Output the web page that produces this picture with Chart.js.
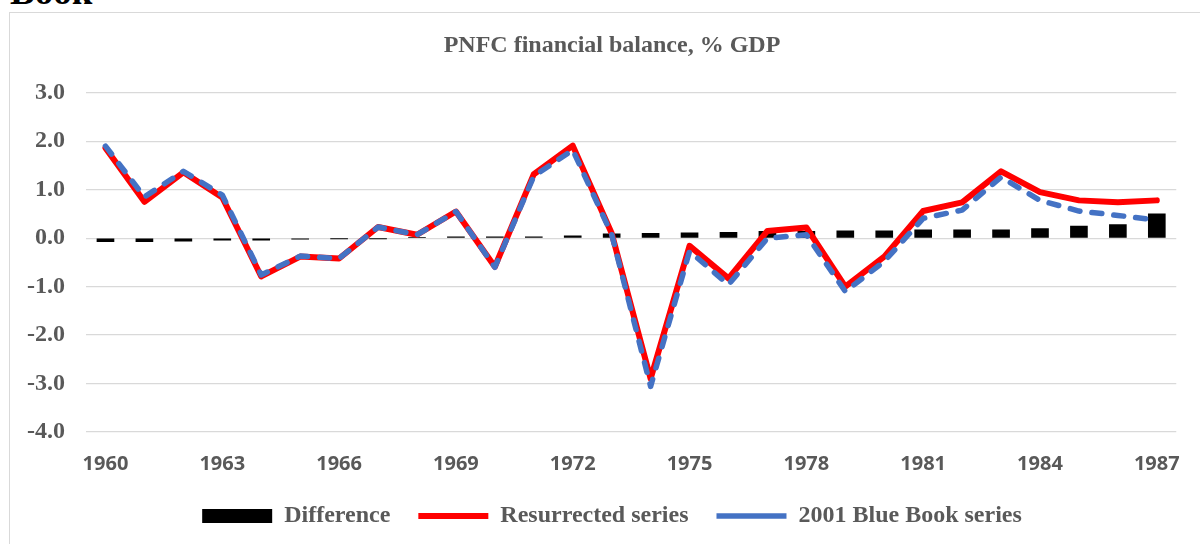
<!DOCTYPE html>
<html>
<head>
<meta charset="utf-8">
<script src="https://cdn.jsdelivr.net/npm/chart.js@4.4.1/dist/chart.umd.min.js"></script>
<style>
  html, body { margin: 0; padding: 0; background: #fff; overflow: hidden; }
  #page { position: relative; width: 1200px; height: 544px; overflow: hidden; }
  #heading { position: absolute; left: 10px; top: -27px; font: bold 37px 'Liberation Serif', serif; line-height: 37px; color: #000; }
  #frame { position: absolute; left: 9px; top: 12px; width: 1300px; height: 700px; border: 1.5px solid #d9d9d9; }
  #wrap { position: absolute; left: 0; top: 0; width: 1200px; height: 544px; }
</style>
</head>
<body>
<div id="page">
  <div id="heading">Book</div>
  <div id="frame"></div>
  <div id="wrap"><canvas id="chart"></canvas></div>
</div>
<script>
// data
const years = ['1960','1961','1962','1963','1964','1965','1966','1967','1968','1969',
  '1970','1971','1972','1973','1974','1975','1976','1977','1978','1979',
  '1980','1981','1982','1983','1984','1985','1986','1987'];
const shownYears = ['1960','1963','1966','1969','1972','1975','1978','1981','1984','1987'];

const difference = [-0.07, -0.07, -0.06, -0.04, -0.04, -0.02, -0.01, -0.01, 0.01, 0.03,
  0.03, 0.03, 0.05, 0.09, 0.10, 0.11, 0.12, 0.14, 0.14, 0.15,
  0.15, 0.17, 0.17, 0.17, 0.20, 0.25, 0.28, 0.50];

const resurrected = [1.86, 0.75, 1.36, 0.84, -0.79, -0.38, -0.42, 0.23, 0.07, 0.55,
  -0.59, 1.32, 1.91, 0.10, -2.90, -0.16, -0.83, 0.15, 0.22, -1.00,
  -0.38, 0.56, 0.74, 1.38, 0.95, 0.78, 0.74, 0.78];

const blueBook = [1.90, 0.85, 1.38, 0.89, -0.76, -0.37, -0.42, 0.23, 0.07, 0.55,
  -0.60, 1.28, 1.82, 0.08, -3.06, -0.27, -0.96, 0.00, 0.07, -1.10,
  -0.48, 0.41, 0.58, 1.26, 0.78, 0.56, 0.47, 0.37];

const yTicks = [3, 2, 1, 0, -1, -2, -3, -4];

const grey = '#595959';
const serif = "'Liberation Serif', 'Times New Roman', serif";

const ctx = document.getElementById('chart').getContext('2d');
new Chart(ctx, {
  type: 'bar',
  data: {
    labels: years,
    datasets: [
      {
        label: 'Difference',
        data: difference,
        backgroundColor: '#000000',
        borderWidth: 0,
        barThickness: 17,
        pointStyle: 'rect',
        order: 3
      },
      {
        type: 'line',
        label: 'Resurrected series',
        data: resurrected,
        borderColor: '#ff0000',
        backgroundColor: '#ff0000',
        borderWidth: 6,
        borderCapStyle: 'round',
        borderJoinStyle: 'round',
        pointRadius: 0,
        pointStyle: 'line',
        tension: 0,
        order: 2
      },
      {
        type: 'line',
        label: '2001 Blue Book series',
        data: blueBook,
        borderColor: '#4472c4',
        backgroundColor: '#4472c4',
        borderWidth: 5.5,
        borderDash: [10, 12],
        borderCapStyle: 'round',
        borderJoinStyle: 'round',
        pointRadius: 0,
        pointStyle: 'line',
        tension: 0,
        order: 1
      }
    ]
  },
  options: {
    responsive: true,
    maintainAspectRatio: false,
    animation: false,
    layout: { padding: { left: 42, right: 18, top: 0, bottom: 6 } },
    plugins: {
      tooltip: { enabled: false },
      title: {
        display: true,
        text: 'PNFC financial balance, % GDP',
        color: grey,
        font: { family: serif, size: 24, weight: 'bold' },
        padding: { top: 31, bottom: 33 }
      },
      legend: {
        position: 'bottom',
        labels: {
          sort: (a, b) => a.datasetIndex - b.datasetIndex,
          color: grey,
          font: { family: serif, size: 24, weight: 'bold' },
          usePointStyle: true,
          pointStyleWidth: 70,
          boxHeight: 14,
          padding: 28
        }
      }
    },
    scales: {
      x: {
        grid: { display: false, drawTicks: false },
        border: { display: false },
        ticks: {
          autoSkip: false,
          maxRotation: 0,
          padding: 20,
          color: grey,
          font: { family: "'Open Sans', sans-serif", size: 20, weight: 'bold' },
          callback: function (value) {
            const lab = this.getLabelForValue(value);
            return shownYears.includes(lab) ? lab : '';
          }
        },
        afterFit: (axis) => { axis.height = 44; }
      },
      y: {
        min: -4,
        max: 3,
        afterBuildTicks: (axis) => { axis.ticks = yTicks.map(v => ({ value: v })); },
        grid: { color: '#d9d9d9', lineWidth: 1.3, drawTicks: false },
        border: { display: false },
        ticks: {
          // mirrored so the labels are not clipped to the narrow axis box
          mirror: true,
          crossAlign: 'far',
          padding: -59,
          color: grey,
          font: { family: serif, size: 24, weight: 'bold' },
          callback: (v) => Number(v).toFixed(1)
        },
        afterFit: (axis) => { axis.width = 44; }
      }
    }
  }
});
</script>
</body>
</html>
